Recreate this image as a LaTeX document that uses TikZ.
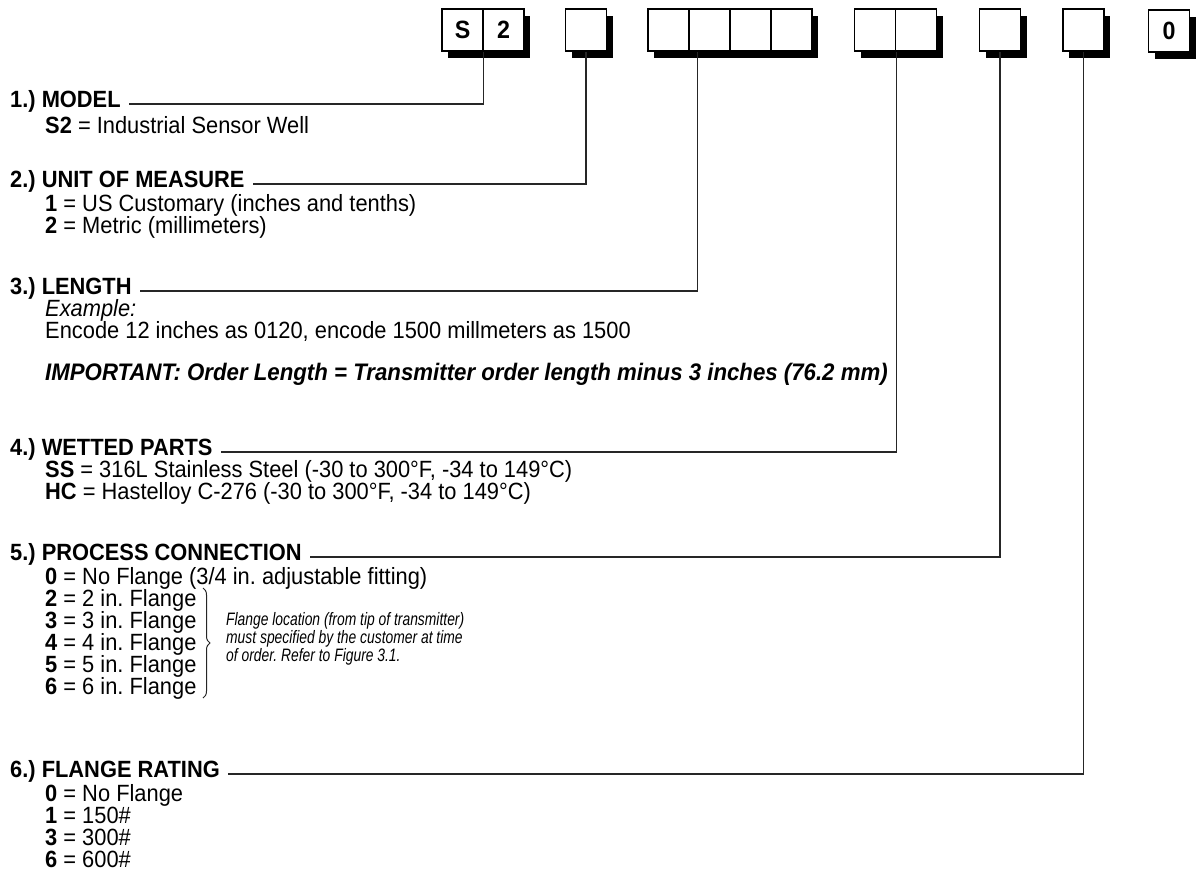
\documentclass[tikz,border=0pt]{standalone}
\usepackage{fontspec}
\setmainfont{Liberation Sans}[FakeStretch=0.93]
\newfontfamily\notefont{Liberation Sans}[FakeStretch=0.77]
\usetikzlibrary{shadows,decorations.pathreplacing,calc}
\newcommand\mainsz{\fontsize{23.5}{22}\selectfont}
\newcommand\impsz{\fontsize{23.9}{22}\selectfont}
\newcommand\notesz{\notefont\fontsize{18}{16}\selectfont}
\frenchspacing
\begin{document}
\begin{tikzpicture}[x=1pt,y=-1pt,
  cell/.style={draw=black, line width=1.2pt, fill=white, minimum width=41pt,
    minimum height=42pt, inner sep=0pt, font=\bfseries\fontsize{25}{25}\selectfont,
    drop shadow={shadow xshift=6pt, shadow yshift=-7pt, fill=black, opacity=1}},
  hdr/.style={anchor=base west, inner sep=0pt, font=\bfseries\mainsz},
  item/.style={anchor=base west, inner sep=0pt, font=\mainsz},
  note/.style={anchor=west, inner sep=0pt, align=left, font=\itshape\notesz},
  conn/.style={draw=black!85, line width=1.2pt},
  brc/.style={draw=black!85, line width=1pt, decorate, decoration={brace, amplitude=7pt}}
]
\useasboundingbox (0,0) rectangle (1197,886);

% code boxes
\node[cell] (cS) at (462.5,30) {S};
\node[cell] (c2) at (503.5,30) {2};
\node[cell] (cU) at (586,30) {};
\node[cell] (cL1) at (668.5,30) {};
\node[cell] (cL2) at (709.5,30) {};
\node[cell] (cL3) at (750.5,30) {};
\node[cell] (cL4) at (791.5,30) {};
\node[cell] (cW1) at (875,30) {};
\node[cell] (cW2) at (916,30) {};
\node[cell] (cP) at (1000,30) {};
\node[cell] (cF) at (1083.5,30) {};
\node[cell] (cZ) at (1169,31) {0};

% headings
\node[hdr] (h1) at (10,107) {1.) MODEL};
\node[hdr] (h2) at (10,187) {2.) UNIT OF MEASURE};
\node[hdr] (h3) at (10,294) {3.) LENGTH};
\node[hdr] (h4) at (10,455) {4.) WETTED PARTS};
\node[hdr] (h5) at (10,560) {5.) PROCESS CONNECTION};
\node[hdr] (h6) at (10,777) {6.) FLANGE RATING};

% items
\node[item] (i1a) at (45,133) {\textbf{S2} = Industrial Sensor Well};
\node[item] (i2a) at (45,211) {\textbf{1} = US Customary (inches and tenths)};
\node[item] (i2b) at (45,233) {\textbf{2} = Metric (millimeters)};
\node[item] (i3a) at (45,316) {\itshape Example:};
\node[item] (i3b) at (45,338) {Encode 12 inches as 0120, encode 1500 millmeters as 1500};
\node[item, font=\bfseries\itshape\impsz] (i3c) at (45,380) {IMPORTANT: Order Length = Transmitter order length minus 3 inches (76.2 mm)};
\node[item] (i4a) at (45,477) {\textbf{SS} = 316L Stainless Steel (-30 to 300°F, -34 to 149°C)};
\node[item] (i4b) at (45,499) {\textbf{HC} = Hastelloy C-276 (-30 to 300°F, -34 to 149°C)};
\node[item] (i5a) at (45,584) {\textbf{0} = No Flange (3/4 in. adjustable fitting)};
\node[item] (i5b) at (45,606) {\textbf{2} = 2 in. Flange};
\node[item] (i5c) at (45,628) {\textbf{3} = 3 in. Flange};
\node[item] (i5d) at (45,650) {\textbf{4} = 4 in. Flange};
\node[item] (i5e) at (45,672) {\textbf{5} = 5 in. Flange};
\node[item] (i5f) at (45,694) {\textbf{6} = 6 in. Flange};
\node[item] (i6a) at (45,801) {\textbf{0} = No Flange};
\node[item] (i6b) at (45,823) {\textbf{1} = 150\#};
\node[item] (i6c) at (45,845) {\textbf{3} = 300\#};
\node[item] (i6d) at (45,867) {\textbf{6} = 600\#};

% brace and note
\coordinate (bt) at (203,588);
\coordinate (bb) at (203,698);
\draw[brc] (bt) -- (bb);
\node[note] (nt) at (226,639) {Flange location (from tip of transmitter)\\must specified by the customer at time\\of order. Refer to Figure 3.1.};

% connectors
\draw[conn] (cS.south east) |- ([shift={(8pt,3pt)}]h1.base east);
\draw[conn] (cU.south) |- ([shift={(8pt,3pt)}]h2.base east);
\draw[conn] ([xshift=8pt]cL1.south east) |- ([shift={(8pt,3pt)}]h3.base east);
\draw[conn] (cW1.south east) |- ([shift={(8pt,3pt)}]h4.base east);
\draw[conn] (cP.south) |- ([shift={(8pt,3pt)}]h5.base east);
\draw[conn] (cF.south) |- ([shift={(8pt,3pt)}]h6.base east);
\end{tikzpicture}
\end{document}
